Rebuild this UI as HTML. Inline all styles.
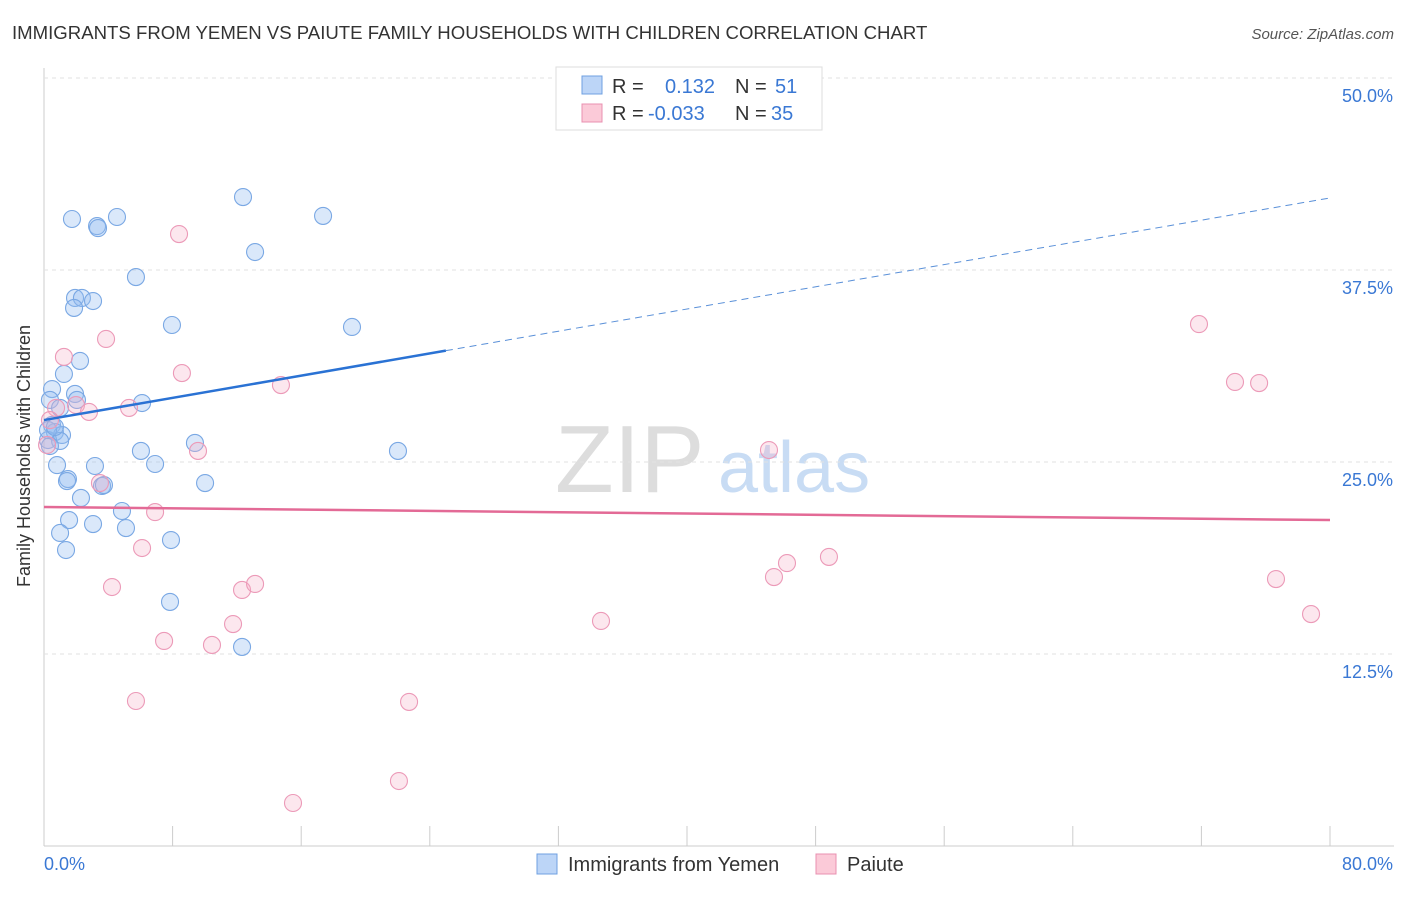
<!DOCTYPE html>
<html><head><meta charset="utf-8"><style>
body{margin:0;background:#fff;font-family:"Liberation Sans",sans-serif;}
svg text{font-family:"Liberation Sans",sans-serif;}
</style></head><body>
<svg id="c" width="1406" height="892" xmlns="http://www.w3.org/2000/svg">
<text x="12" y="39" font-size="18.6" fill="#333">IMMIGRANTS FROM YEMEN VS PAIUTE FAMILY HOUSEHOLDS WITH CHILDREN CORRELATION CHART</text>
<text x="1394" y="39" font-size="15" fill="#555" font-style="italic" text-anchor="end">Source: ZipAtlas.com</text>
<text x="30" y="456" font-size="18" fill="#333" text-anchor="middle" transform="rotate(-90 30 456)">Family Households with Children</text>
<text x="555" y="492" font-size="96" fill="#ddd" font-family="Liberation Serif">ZIP</text>
<text x="718" y="492" font-size="72" fill="#c8dcf4">atlas</text>
<g id="grid"></g><g id="pts"></g><g id="trend"></g>
<g>
<rect x="556" y="67" width="266" height="63" fill="#fff" stroke="#ddd"/>
<rect x="582" y="76" width="20" height="18" fill="#bcd5f7" stroke="#6fa0e0"/>
<rect x="582" y="104" width="20" height="18" fill="#fbcad8" stroke="#e890b0"/>
<text x="612" y="93" font-size="20" fill="#333">R = </text><text x="665" y="93" font-size="20" fill="#3a78d4">0.132</text>
<text x="735" y="93" font-size="20" fill="#333">N = </text><text x="775" y="93" font-size="20" fill="#3a78d4">51</text>
<text x="612" y="120" font-size="20" fill="#333">R = </text><text x="648" y="120" font-size="20" fill="#3a78d4">-0.033</text>
<text x="735" y="120" font-size="20" fill="#333">N = </text><text x="771" y="120" font-size="20" fill="#3a78d4">35</text>
</g>
<g>
<rect x="537" y="854" width="20" height="20" fill="#bcd5f7" stroke="#6fa0e0"/>
<text x="568" y="871" font-size="20" fill="#333">Immigrants from Yemen</text>
<rect x="816" y="854" width="20" height="20" fill="#fbcad8" stroke="#e890b0"/>
<text x="847" y="871" font-size="20" fill="#333">Paiute</text>
</g>
</svg>
<script>
const yTicks=[12.5,25,37.5,50];
const yTickLabels=["12.5%","25.0%","37.5%","50.0%"];
const xTicks=[0,8,16,24,32,40,48,56,64,72,80];
const blueX=[1.74,3.30,3.36,4.54,12.38,17.36,13.13,5.72,1.93,2.36,3.05,1.87,7.96,19.16,2.24,1.24,0.50,1.93,0.37,6.10,2.05,1.00,0.50,0.68,1.12,0.25,1.00,0.37,9.39,6.03,22.02,6.91,0.81,3.17,1.49,1.43,3.61,3.73,10.02,2.30,4.85,1.56,3.05,5.10,1.00,7.90,1.37,7.84,12.32,0.25,0.68];
const blueY=[40.82,40.36,40.23,40.95,42.25,41.02,38.67,37.04,35.68,35.68,35.48,35.03,33.92,33.79,31.58,30.73,29.75,29.43,29.04,28.84,29.04,28.52,27.41,26.95,26.76,26.43,26.37,26.04,26.24,25.72,25.72,24.87,24.80,24.74,23.89,23.76,23.44,23.50,23.63,22.66,21.81,21.22,20.96,20.70,20.38,19.92,19.27,15.89,12.96,27.08,27.28];
const pinkX=[1.24,3.86,8.40,8.58,14.74,0.75,1.99,2.80,5.29,9.58,0.19,0.37,3.48,6.91,6.10,4.23,12.32,13.13,11.76,7.47,10.45,5.72,22.71,22.08,15.49,34.65,45.10,45.41,46.22,48.83,71.85,74.09,75.59,76.64,78.82];
const pinkY=[31.84,33.01,39.84,30.79,30.01,28.52,28.71,28.26,28.52,25.72,26.11,27.73,23.63,21.74,19.40,16.86,16.67,17.06,14.45,13.35,13.09,9.44,9.38,4.23,2.80,14.65,25.78,17.51,18.42,18.82,33.98,30.21,30.14,17.38,15.10];
const blueTrend=[27.73,42.19];
const pinkTrend=[22.07,21.22];
const NS="http://www.w3.org/2000/svg";
const X=v=>44+v/80*1286, Y=v=>846-v*15.36;
function mk(p,t,a){const e=document.createElementNS(NS,t);for(const k in a)e.setAttribute(k,a[k]);p.appendChild(e);return e;}
const g=document.getElementById('grid');
mk(g,'line',{x1:44,y1:68,x2:44,y2:846,stroke:'#ccc'});
mk(g,'line',{x1:44,y1:846,x2:1394,y2:846,stroke:'#ccc'});
yTicks.forEach((t,i)=>{
 const l=mk(g,'line',{x1:44,y1:Y(t),x2:1394,y2:Y(t),stroke:'#e2e2e2','stroke-dasharray':'4,4'});
 
 const tx=mk(g,'text',{x:1393,y:Y(t)+24,'font-size':18,fill:'#3a78d4','text-anchor':'end'});tx.textContent=yTickLabels[i];
 
});
xTicks.forEach(t=>{const l=mk(g,'line',{x1:X(t),y1:826,x2:X(t),y2:846,stroke:'#ccc'});
 });
let t0=mk(g,'text',{x:44,y:870,'font-size':18,fill:'#3a78d4'});t0.textContent='0.0%';

let t1=mk(g,'text',{x:1393,y:870,'font-size':18,fill:'#3a78d4','text-anchor':'end'});t1.textContent='80.0%';

const P=document.getElementById('pts');
blueX.forEach((v,i)=>{const c=mk(P,'circle',{cx:X(v),cy:Y(blueY[i]),r:8.5,fill:'rgba(150,188,240,0.35)',stroke:'#7aa8e4','stroke-width':1.1});
 });
pinkX.forEach((v,i)=>{const c=mk(P,'circle',{cx:X(v),cy:Y(pinkY[i]),r:8.5,fill:'rgba(245,175,198,0.3)',stroke:'#ec9ab8','stroke-width':1.1});
 });
const T=document.getElementById('trend');
const bAt=x=>blueTrend[0]+(blueTrend[1]-blueTrend[0])*x/80;
let b1=mk(T,'line',{x1:X(0),y1:Y(bAt(0)),x2:X(25),y2:Y(bAt(25)),stroke:'#2a72d4','stroke-width':2.5});

let b2=mk(T,'line',{x1:X(25),y1:Y(bAt(25)),x2:X(80),y2:Y(bAt(80)),stroke:'#5a90d8','stroke-width':1,'stroke-dasharray':'7,5'});

let p1=mk(T,'line',{x1:X(0),y1:Y(pinkTrend[0]),x2:X(80),y2:Y(pinkTrend[1]),stroke:'#e36a96','stroke-width':2.5});

</script>
</body></html>
